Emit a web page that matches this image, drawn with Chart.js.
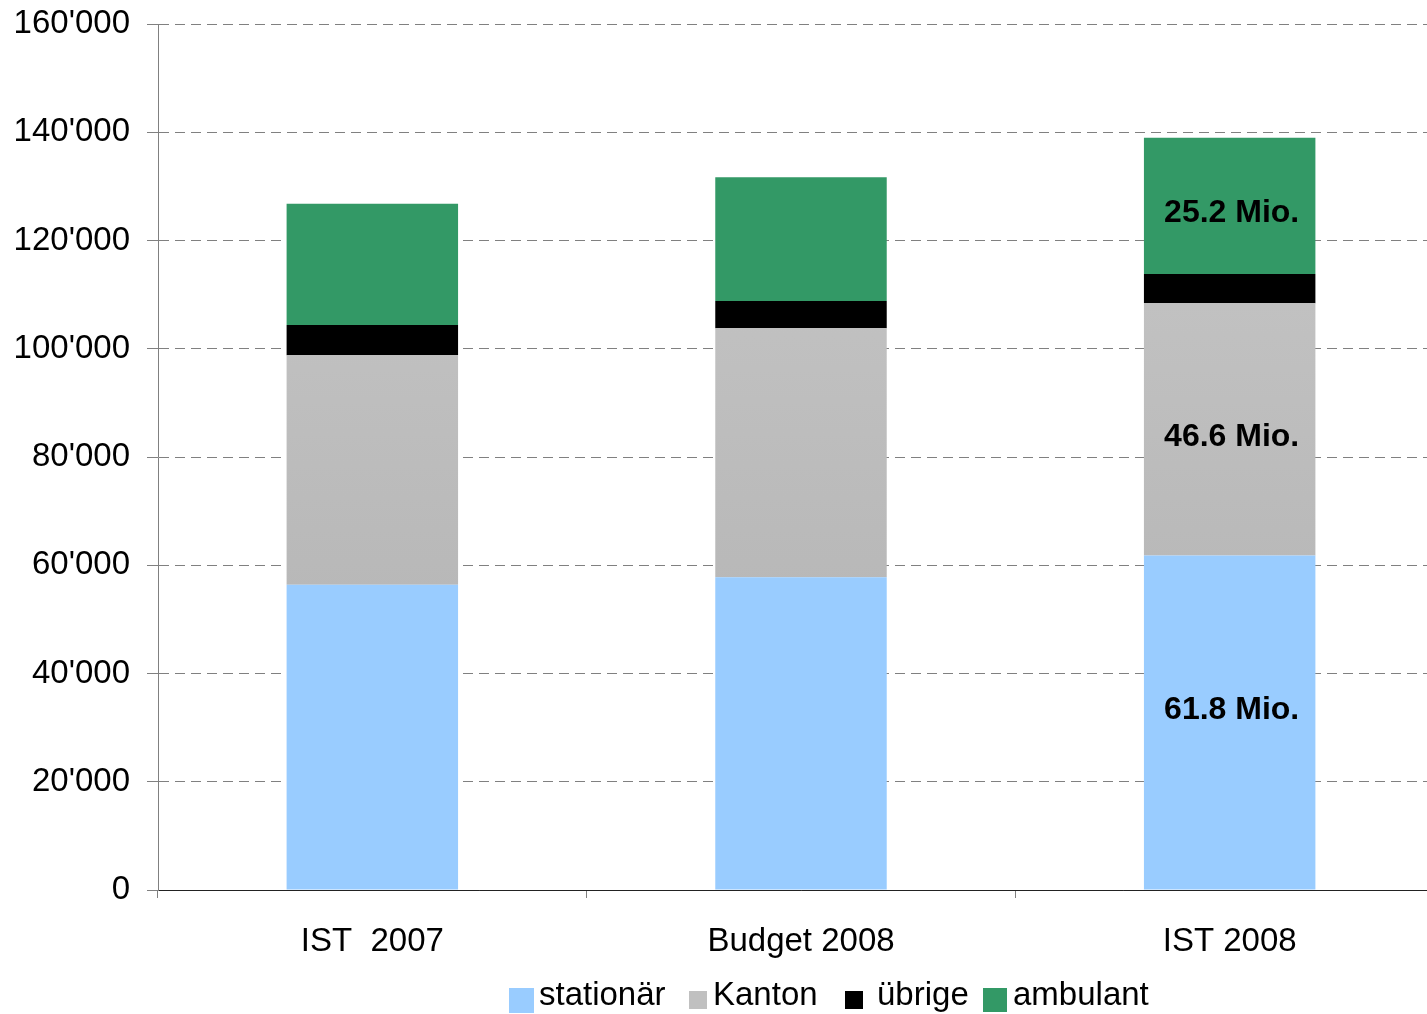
<!DOCTYPE html>
<html>
<head>
<meta charset="utf-8">
<script src="https://cdn.jsdelivr.net/npm/chart.js@4/dist/chart.umd.min.js"></script>
<style>
  body { margin: 0; background: #fff; overflow: hidden; }
  #wrap { position: relative; width: 1427px; height: 1014px; overflow: hidden; }
  #legend { position: absolute; left: 0; top: 0; width: 1427px; height: 1014px;
            font-family: "Liberation Sans", Arial, sans-serif; font-size: 33px; color: #000; }
  #legend .box { position: absolute; }
  #legend .txt { position: absolute; top: 975px; line-height: 38px; white-space: nowrap; }
</style>
</head>
<body>
<div id="wrap">
  <canvas id="kosten-plot" width="1444" height="1014"></canvas>
  <div id="legend"></div>
</div>
<script>
let categories = ['IST  2007', 'Budget 2008', 'IST 2008']
let series_names = ['stationär', 'Kanton', 'übrige', 'ambulant']
let stationaer = [56400, 57800, 61800]
let kanton = [42400, 46000, 46600]
let uebrige = [5600, 5000, 5400]
let ambulant = [22400, 22900, 25200]
// labels written inside the last bar
let ist2008_labels = ['61.8 Mio.', '46.6 Mio.', null, '25.2 Mio.']
let y_ticks = [0, 20000, 40000, 60000, 80000, 100000, 120000, 140000, 160000]

let series_colors = ['#99CCFF', '#C0C0C0', '#000000', '#339966']
let font_family = '"Liberation Sans", Arial, sans-serif'

// vertical nudge of the in-bar labels, px from segment middle
let label_nudge = [-12, 8, 0, 7]
// legend layout (left edge, box size, gap to text) per entry
let legend_left = [509, 689, 845, 983]
let legend_box = [25, 18, 18, 24]
let legend_gap = [5, 6, 14, 6]

function fmt_thousands(v) {
    return String(v).replace(/\B(?=(\d{3})+(?!\d))/g, "'")
}

function kanton_fill(ctx) {
    let area = ctx.chart.chartArea
    if (!area) return '#BEBEBE'
    let g = ctx.chart.ctx.createLinearGradient(0, area.top + 280, 0, area.top + 570)
    g.addColorStop(0, '#C1C1C1')
    g.addColorStop(1, '#B8B8B8')
    return g
}

let bar_labels_plugin = {
    id: 'barLabels',
    afterDatasetsDraw(chart) {
        let c = chart.ctx
        c.save()
        c.font = 'bold 32px ' + font_family
        c.fillStyle = '#000'
        c.textAlign = 'center'
        c.textBaseline = 'middle'
        ist2008_labels.forEach((txt, i) => {
            if (!txt) return
            let bar = chart.getDatasetMeta(i).data[2]
            let mid = (bar.y + bar.base) / 2
            c.fillText(txt, bar.x + 2, mid + label_nudge[i])
        })
        c.restore()
    }
}

let datasets = [stationaer, kanton, uebrige, ambulant].map((vals, i) => ({
    label: series_names[i],
    data: vals,
    backgroundColor: i === 1 ? kanton_fill : series_colors[i],
    borderWidth: 0,
    barPercentage: 0.4,
    categoryPercentage: 1.0
}))

Chart.defaults.font.family = font_family
Chart.defaults.font.size = 33
Chart.defaults.color = '#000'

let kosten_chart = new Chart(document.getElementById('kosten-plot'), {
    type: 'bar',
    data: { labels: categories, datasets: datasets },
    options: {
        responsive: false,
        animation: false,
        layout: { padding: { top: 24, right: 0, bottom: 56, left: 0 } },
        plugins: { legend: { display: false }, tooltip: { enabled: false } },
        scales: {
            x: {
                stacked: true,
                grid: { offset: true, drawOnChartArea: false, tickLength: 8, color: '#808080' },
                border: { color: '#222', width: 1 },
                ticks: { padding: 24, font: { size: 33 }, maxRotation: 0 },
                afterFit: (s) => { s.height = 68; s.paddingLeft = 0; s.paddingRight = 0 }
            },
            y: {
                stacked: true,
                min: 0,
                max: 160000,
                afterBuildTicks: (s) => { s.ticks = y_ticks.map(v => ({ value: v })) },
                ticks: { padding: 17, font: { size: 33 }, callback: (v) => fmt_thousands(v) },
                grid: { color: '#808080', tickLength: 11, tickColor: '#808080' },
                border: { color: '#808080', width: 1, dash: [10, 6] },
                afterFit: (s) => { s.width = 158; s.paddingTop = 0; s.paddingBottom = 0 }
            }
        }
    },
    plugins: [bar_labels_plugin]
})

// legend below the chart, built from the same series arrays
let legend_div = document.getElementById('legend')
series_names.forEach((name, i) => {
    let sz = legend_box[i]
    let box = document.createElement('div')
    box.className = 'box'
    box.style.background = series_colors[i]
    box.style.width = sz + 'px'
    box.style.height = sz + 'px'
    box.style.left = legend_left[i] + 'px'
    box.style.top = (1000 - sz / 2) + 'px'
    let txt = document.createElement('div')
    txt.className = 'txt'
    txt.textContent = name
    txt.style.left = (legend_left[i] + sz + legend_gap[i]) + 'px'
    legend_div.appendChild(box)
    legend_div.appendChild(txt)
})
</script>
</body>
</html>
